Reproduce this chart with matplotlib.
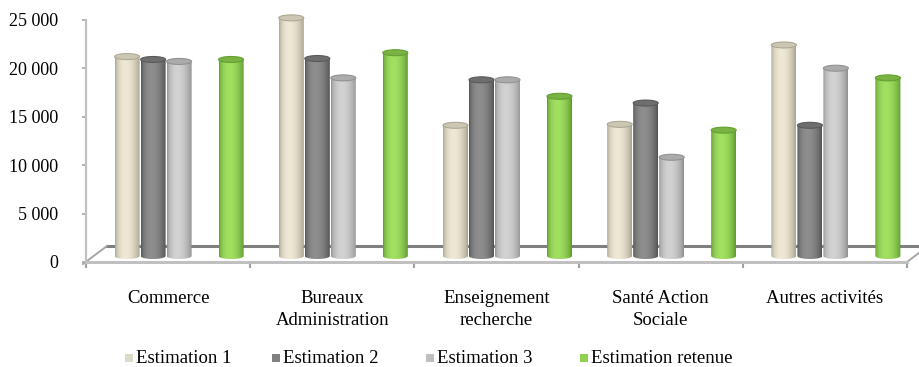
import matplotlib
matplotlib.use("Agg")
import matplotlib.pyplot as plt
import numpy as np
from matplotlib.colors import to_rgb
from matplotlib.patches import Ellipse, Rectangle, PathPatch
from matplotlib.path import Path

categories = ["Commerce", "Bureaux\nAdministration", "Enseignement\nrecherche",
              "Santé Action\nSociale", "Autres activités"]
series = ["Estimation 1", "Estimation 2", "Estimation 3", "Estimation retenue"]
estimation_1 = [20600, 24600, 13500, 13600, 21800]
estimation_2 = [20300, 20400, 18200, 15800, 13500]
estimation_3 = [20100, 18400, 18200, 10200, 19400]
estimation_retenue = [20300, 21000, 16500, 13000, 18400]
yticks = [0, 5000, 10000, 15000, 20000, 25000]

# edge colour, highlight colour, cap fill, cap rim, legend colour
styles = [
    ("#A4A08A", "#EEE8D4", "#CBC7B3", "#ADA994", "#DDD9C3"),
    ("#505050", "#8E8E8E", "#6E6E6E", "#5A5A5A", "#808080"),
    ("#8C8C8C", "#D2D2D2", "#ABABAB", "#929292", "#BFBFBF"),
    ("#5A952C", "#A2E062", "#7AB244", "#62A030", "#92D050"),
]
slots = [0, 1, 2, 4]          # 4th slot left empty between the estimations and the retained value

plt.rcParams['font.family'] = ['Liberation Serif', 'DejaVu Serif']

W, H = 920, 367
fig = plt.figure(figsize=(W / 100, H / 100), dpi=100)
cat_px = 164.2
y_per_px = 25000 / 242
# axes run a bit above 25 000 so the tallest cap is not cut
ax = fig.add_axes([86 / W, 1 - 262 / H, 834 / W, 257 / H])
ax.set_xlim(-0.5, -0.5 + 834 / cat_px)
ax.set_ylim(0, 25000 + 15 * y_per_px)

base = 6 * y_per_px            # bars stand a little behind the front edge of the floor
ry = 3 * y_per_px
bar_w = 25 / cat_px
slot_step = 26 / cat_px
shift = 11 / cat_px


def cylinder(xc, y0, h, st, z):
    edge, light, cap, rim = [np.array(to_rgb(c)) for c in st[:4]]
    t = np.linspace(0, 1, 90)
    p = np.sin(np.pi * t ** 0.8) ** 0.7
    img = (edge + (light - edge) * p[:, None])[None, :, :]
    x0, x1 = xc - bar_w / 2, xc + bar_w / 2
    im = ax.imshow(img, extent=[x0, x1, y0 - ry, y0 + h], aspect='auto',
                   interpolation='bilinear', zorder=z)
    th = np.linspace(np.pi, 2 * np.pi, 40)
    bottom = np.column_stack([xc + bar_w / 2 * np.cos(th), y0 + ry * np.sin(th)])
    verts = np.vstack([bottom, [[x1, y0 + h], [x0, y0 + h], bottom[0]]])
    clip = PathPatch(Path(verts), transform=ax.transData)
    im.set_clip_path(clip)
    ax.add_patch(Ellipse((xc, y0 + h), bar_w, 2 * ry, facecolor=cap,
                         edgecolor=rim, lw=0.8, zorder=z + 0.1))


values = [estimation_1, estimation_2, estimation_3, estimation_retenue]
for s, vals in enumerate(values):
    for i, v in enumerate(vals):
        xc = i + shift + (slots[s] - 2) * slot_step
        cylinder(xc, base, v, styles[s], 3 + s)

# floor of the 3d box
depth_x = 21 / cat_px
depth_y = 16 * y_per_px
ax.plot([-0.5 + depth_x, 4.5 + depth_x], [depth_y, depth_y], color="#7F7F7F", lw=2.2,
        zorder=1, clip_on=False)
ax.plot([-0.5 - 3 / cat_px, -0.5 + depth_x], [-2 * y_per_px, depth_y], color="#A6A6A6",
        lw=1.4, zorder=1, clip_on=False)
ax.plot([4.5, 4.5 + depth_x], [0, depth_y], color="#A6A6A6", lw=1.4, zorder=1, clip_on=False)
ax.plot([-0.5, 4.5], [0, 0], color="#C0C0C0", lw=2.2, zorder=2, clip_on=False)
ax.plot([-0.5, -0.5], [0, 25000], color="#C0C0C0", lw=1.6, zorder=2, clip_on=False)

for sp in ax.spines.values():
    sp.set_visible(False)

ax.set_yticks(yticks)
ax.set_yticklabels([f"{v:,}".replace(",", " ") for v in yticks])
ax.tick_params(axis='y', length=3, width=1.2, color="#A6A6A6", pad=17, labelsize=13)

ax.set_xticks(range(len(categories)))
ax.set_xticklabels(categories, linespacing=1.4)
ax.set_xticks(np.arange(-0.5, 5, 1), minor=True)
ax.tick_params(axis='x', which='major', length=0, pad=20, labelsize=13.5)
ax.tick_params(axis='x', which='minor', length=4.5, width=1.5, color="#A0A0A0")

# legend along the bottom
leg_x = [125, 272, 426, 580]
for s, name in enumerate(series):
    fig.add_artist(Rectangle((leg_x[s] / W, 1 - 362 / H), 8 / W, 8 / H,
                             transform=fig.transFigure, facecolor=styles[s][4],
                             edgecolor="none"))
    fig.text((leg_x[s] + 11) / W, 1 - 363 / H, name, fontsize=13.5, va='baseline', ha='left')

fig.savefig("out.png", dpi=100)
